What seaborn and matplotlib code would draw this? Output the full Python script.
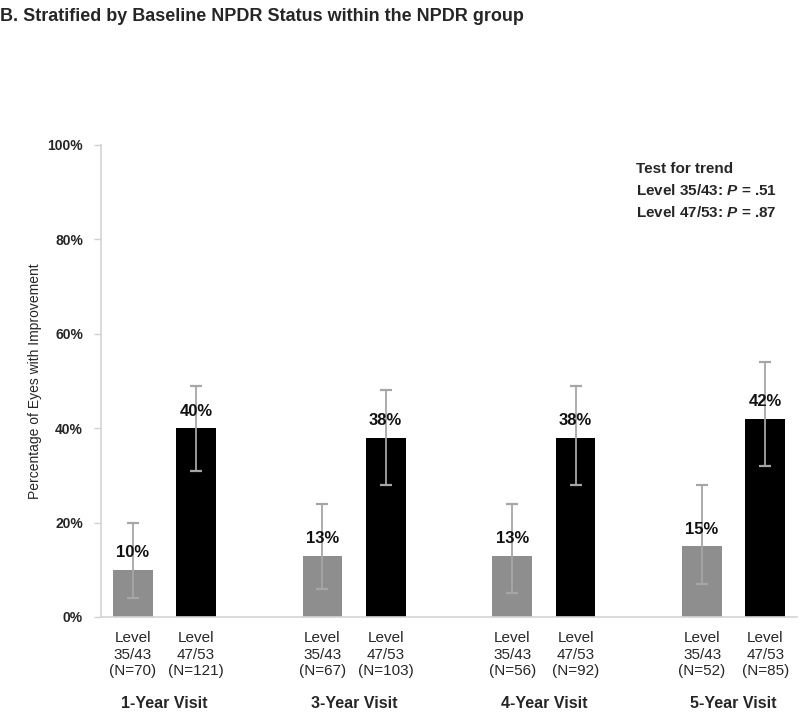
import numpy as np
import pandas as pd
import seaborn as sns
import matplotlib.pyplot as plt

# values
visits = ["1-Year Visit", "3-Year Visit", "4-Year Visit", "5-Year Visit"]
levels = ["Level 35/43", "Level 47/53"]
n_low = [70, 67, 56, 52]
n_high = [121, 103, 92, 85]
pct_low = [10, 13, 13, 15]
pct_high = [40, 38, 38, 42]
lo_low = [4, 6, 5, 7]
hi_low = [20, 24, 24, 28]
lo_high = [31, 28, 28, 32]
hi_high = [49, 48, 49, 54]

sns.set_theme(style="white")
plt.rcParams['font.family'] = ['Liberation Sans', 'DejaVu Sans']
plt.rcParams['mathtext.fontset'] = 'custom'
plt.rcParams['mathtext.bfit'] = 'Liberation Sans:italic:bold'

# one slot per bar, plus an empty slot between visits
rows = []
order = []
for i, v in enumerate(visits):
    s1 = f"L35_{i}"
    s2 = f"L47_{i}"
    order += [s1, s2]
    rows.append(dict(slot=s1, level=levels[0], pct=pct_low[i], lo=lo_low[i], hi=hi_low[i],
                     lab=f"Level\n35/43\n(N={n_low[i]})"))
    rows.append(dict(slot=s2, level=levels[1], pct=pct_high[i], lo=lo_high[i], hi=hi_high[i],
                     lab=f"Level\n47/53\n(N={n_high[i]})"))
    if i < len(visits) - 1:
        order.append(f"gap_{i}")
df = pd.DataFrame(rows)

fig = plt.figure(figsize=(8, 7.13), dpi=100)
ax = fig.add_axes([101 / 800, 96 / 713, 696 / 800, 472 / 713])

sns.barplot(data=df, x="slot", y="pct", hue="level", order=order,
            palette={levels[0]: "#8e8e8e", levels[1]: "#000000"},
            width=0.63, dodge=False, legend=False, errorbar=None,
            linewidth=0, ax=ax)

xpos = np.array([order.index(s) for s in df["slot"]])
ax.errorbar(xpos, df["pct"], yerr=[df["pct"] - df["lo"], df["hi"] - df["pct"]],
            fmt="none", ecolor="#a6a6a6", elinewidth=1.3, capsize=4, capthick=1.6, zorder=3)

for x, p in zip(xpos, df["pct"]):
    ax.text(x, p + 2.0, f"{p}%", ha="center", va="bottom", fontsize=12,
            fontweight="bold", color="#111111", zorder=4)

ax.set_xlim(-0.5, len(order) - 0.5)
ax.set_ylim(0, 100)
ax.set_yticks(range(0, 101, 20))
ax.set_yticklabels([f"{t}%" for t in range(0, 101, 20)], fontsize=10, fontweight="bold")
ax.set_ylabel("Percentage of Eyes with Improvement", fontsize=10)
ax.yaxis.set_label_coords(-0.085, 0.5)
ax.set_xlabel("")

ax.set_xticks(xpos)
ax.set_xticklabels(df["lab"], fontsize=11, linespacing=1.25)
ax.tick_params(axis="x", length=0, pad=10)
ax.set_xticks(np.arange(-0.5, len(order), 1.0), minor=True)
ax.tick_params(axis="x", which="minor", length=6, color="#d0d0d0", width=1, direction="out")
ax.tick_params(axis="y", length=5, color="#d0d0d0", width=1, direction="out", left=True, pad=8)

for sp in ["top", "right"]:
    ax.spines[sp].set_visible(False)
for sp in ["left", "bottom"]:
    ax.spines[sp].set_color("#d4d4d4")
    ax.spines[sp].set_linewidth(1.2)

for i, v in enumerate(visits):
    c = order.index(f"L35_{i}") + 0.5
    ax.text(c, -18.3, v, ha="center", va="center", fontsize=11.5, fontweight="bold")

ax.text(0.768, 0.965, "Test for trend", transform=ax.transAxes, fontsize=11,
        fontweight="bold", va="top")
ax.text(0.768, 0.919, r"Level 35/43: $\bfit{P}$ = .51", transform=ax.transAxes,
        fontsize=11, fontweight="bold", va="top")
ax.text(0.768, 0.873, r"Level 47/53: $\bfit{P}$ = .87", transform=ax.transAxes,
        fontsize=11, fontweight="bold", va="top")

fig.text(0.0, 0.989, "B. Stratified by Baseline NPDR Status within the NPDR group",
         fontsize=13, fontweight="bold", va="top", ha="left")

fig.savefig("out.png", dpi=100)
